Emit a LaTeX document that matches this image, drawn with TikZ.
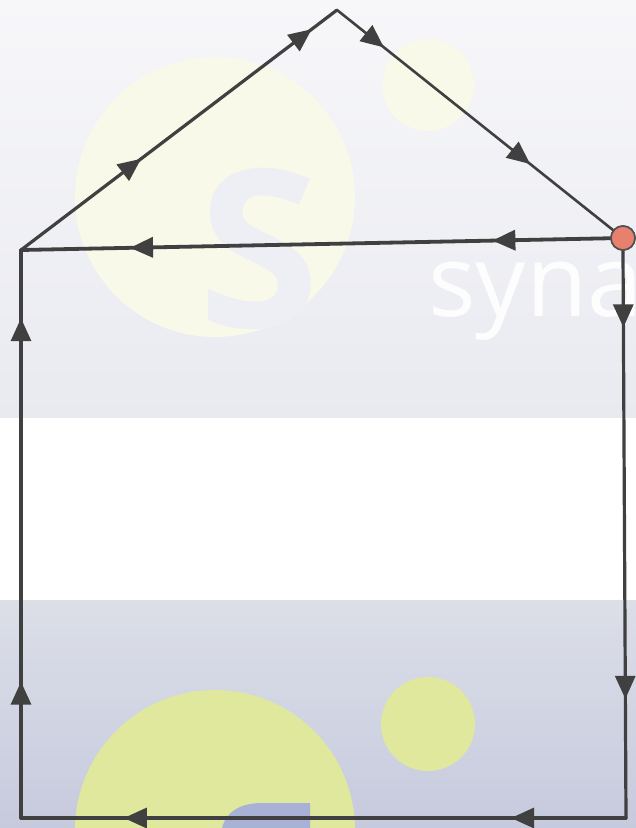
\documentclass[tikz,border=0pt]{standalone}
\usepackage{fontspec}
\newfontfamily\wmfont{Open Sans}
\usetikzlibrary{arrows.meta,decorations.markings}

\definecolor{edgecol}{HTML}{404040}
\definecolor{hubfill}{HTML}{E8806E}
\definecolor{hubline}{HTML}{505050}
\definecolor{bandtop}{HTML}{F7F7FA}
\definecolor{bandmid}{HTML}{E9EAF0}
\definecolor{lowtop}{HTML}{DCDFE8}
\definecolor{lowbot}{HTML}{C6CADD}
\definecolor{paleyel}{HTML}{F8F9E9}
\definecolor{lowyel}{HTML}{DFE89C}
\definecolor{faintS}{HTML}{EEEFF5}
\definecolor{lowS}{HTML}{A8B1D6}

\tikzset{
  flowtip/.tip={Triangle[length=23pt,width=20pt]},
  edge/.style={draw=edgecol, color=edgecol, line width=3.2pt, line cap=round, line join=round},
  flow/.style 2 args={postaction={decorate}, decoration={markings,
      mark=at position #1 with {\arrow{flowtip}},
      mark=at position #2 with {\arrow{flowtip}}}},
  hub/.style={circle, fill=hubfill, draw=hubline, line width=1.6pt, minimum size=24pt, inner sep=0pt},
}

\begin{document}
\begin{tikzpicture}[x=1pt, y=-1pt]

  %% ════ background (watermark) ════
  \begin{scope}
    \clip (0,0) rectangle (636,828);
    \shade[top color=bandtop, bottom color=bandmid] (0,0) rectangle (636,418);
    \fill[white] (0,418) rectangle (636,600);
    \shade[top color=lowtop, bottom color=lowbot] (0,600) rectangle (636,828);
    \fill[paleyel] (215,197) circle (140);
    \fill[paleyel] (428,85) circle (46);
    \fill[lowyel] (215,830) circle (140);
    \fill[lowyel] (428,724) circle (47);
    \node[anchor=base west, inner sep=0pt, text=faintS, font=\wmfont\bfseries\fontsize{220}{220}\selectfont] (logoS) at (198,327) {S};
    % top of the lower logo mark
    \fill[lowS] (222,828) .. controls (226,812) and (240,803) .. (262,803) -- (310,803) -- (310,828) -- cycle;
    \node[anchor=base west, inner sep=0pt, text=white, opacity=0.9, font=\wmfont\fontsize{100}{100}\selectfont] (brand) at (428,316) {syna};
  \end{scope}

  %% ════ corners ════
  \coordinate (apex) at (337,10);
  \coordinate (roofL) at (21,250);
  \coordinate (botL) at (21,818);
  \coordinate (botR) at (626,818);
  \node[hub] (hub) at (623,238) {};

  %% ════ edges with flow arrows ════
  \draw[edge, flow={0.38}{0.92}] (roofL) -- (apex);
  \draw[edge, line width=2.6pt, flow={0.17}{0.70}] (apex) -- (hub);
  \draw[edge, line width=3.8pt, flow={0.20}{0.815}] (hub) -- (roofL);
  \draw[edge, flow={0.135}{0.79}] (hub.south) -- (botR);
  \draw[edge, flow={0.19}{0.83}] (botR) -- (botL);
  \draw[edge, flow={0.24}{0.88}] (botL) -- (roofL);

  % hub on top of the line ends
  \node[hub] at (hub) {};

  \pgfresetboundingbox
  \path[use as bounding box] (0,0) rectangle (636,828);
\end{tikzpicture}
\end{document}
